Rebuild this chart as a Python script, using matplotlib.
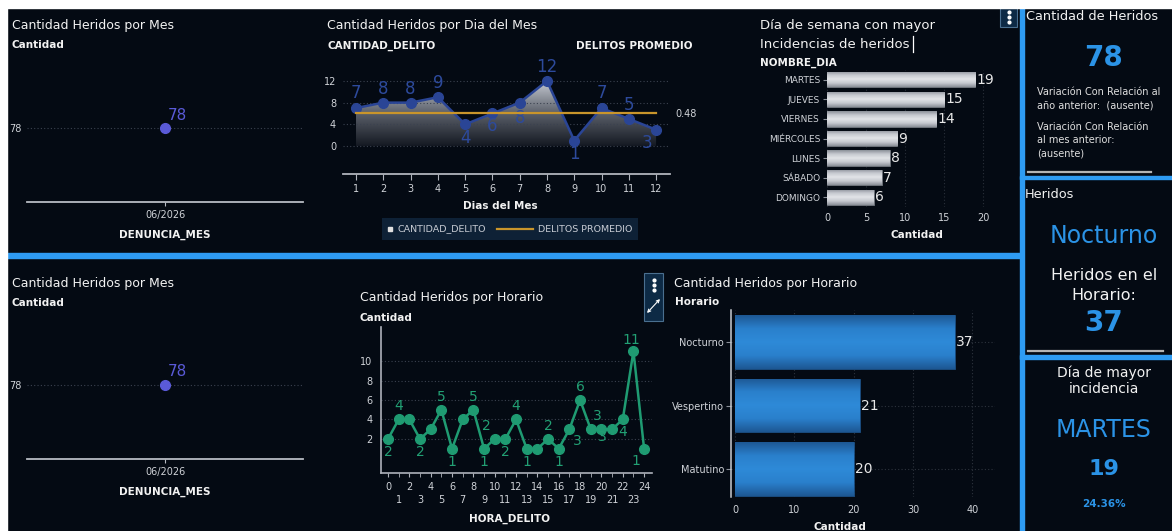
import numpy as np
import matplotlib
matplotlib.use('Agg')
import matplotlib.pyplot as plt
from matplotlib.patches import Rectangle
from matplotlib.colors import LinearSegmentedColormap

W, H = 1172, 531
BG = '#040a13'
BLUE_SEP = '#2e9bf2'
KPI_BLUE = '#2b93e6'
TICK_C = '#d0d3d8'
WHITE = '#f2f2f2'

# ---------------- data ----------------
mes_labels = ['06/2026']
mes_valores = [78]

dias = list(range(1, 13))
cantidad_delito = [7, 8, 8, 9, 4, 6, 8, 12, 1, 7, 5, 3]
delitos_promedio = [0.48] * 12
# label offsets (pixels) for the day-of-month labels
dias_label_off = [(0, 15), (0, 14), (0, 14), (0, 14), (0, -14), (0, -13), (0, -15),
                  (0, 14), (0, -13), (0, 15), (0, 14), (-9, -13)]

nombre_dia = ['MARTES', 'JUEVES', 'VIERNES', 'MIÉRCOLES', 'LUNES', 'SÁBADO', 'DOMINGO']
cantidad_dia = [19, 15, 14, 9, 8, 7, 6]

horas = list(range(25))
cantidad_hora = [2, 4, 4, 2, 3, 5, 1, 4, 5, 1, 2, 2, 4, 1, 1, 2, 1, 3, 6, 3, 3, 3, 4, 11, 1]
# (hour, dx px, dy px) of the visible value labels
horas_etiquetas = [(0, 0, -13), (1, 0, 13), (3, 0, -13), (5, 0, 13), (6, 0, -13),
                   (8, 0, 13), (10, -8, 13), (9, 0, -13), (11, 0, -13), (12, 0, 13),
                   (13, 0, -13), (15, 0, 13), (16, 0, -13), (17, 8, -12), (18, 0, 13),
                   (20, -4, 13), (20, 1, -8), (22, 0, -13), (23, -2, 11), (24, -8, -12)]

horario = ['Nocturno', 'Vespertino', 'Matutino']
cantidad_horario = [37, 21, 20]

# ---------------- figure ----------------
fig = plt.figure(figsize=(W / 100, H / 100), dpi=100, facecolor=BG)
ov = fig.add_axes([0, 0, 1, 1], zorder=0)
ov.set_xlim(0, W)
ov.set_ylim(H, 0)
ov.axis('off')


def px_axes(x0, y0, x1, y1):
    ax = fig.add_axes([x0 / W, 1 - y1 / H, (x1 - x0) / W, (y1 - y0) / H], zorder=2)
    ax.set_facecolor('none')
    for s in ax.spines.values():
        s.set_visible(False)
    return ax


def txt(x, y, s, size=9, color=WHITE, weight='normal', ha='left', va='center'):
    ov.text(x, y, s, fontsize=size, color=color, fontweight=weight, ha=ha, va=va)


# background decorations
ov.add_patch(Rectangle((0, 0), W, 8, color='white', zorder=5))
ov.add_patch(Rectangle((0, 0), 7, H, color='white', zorder=5))
ov.add_patch(Rectangle((7, 253.3), 1013, 4.3, color=BLUE_SEP))
ov.add_patch(Rectangle((1020, 8), 3.5, H, color=BLUE_SEP))
ov.add_patch(Rectangle((1020, 175.5), 152, 3.6, color=BLUE_SEP))
ov.add_patch(Rectangle((1020, 355.3), 152, 3.4, color=BLUE_SEP))
ov.plot([1028, 1151], [172, 172], color='#b4b4b4', lw=1.6)
ov.plot([1028, 1163], [350.8, 350.8], color='#b4b4b4', lw=1.6)

# menu boxes
ov.add_patch(Rectangle((1000, 7), 17, 20, facecolor='#0d2a45', edgecolor='#4a6f8f', lw=0.8))
ov.plot([1008.5] * 3, [12, 17, 22], 'o', color='white', ms=2)
ov.add_patch(Rectangle((644, 273), 19, 48, facecolor='#0d2a45', edgecolor='#4a6f8f', lw=0.8))
ov.plot([653.5] * 3, [280, 285, 290], 'o', color='white', ms=2)
ov.annotate('', xy=(660, 299), xytext=(647, 313),
            arrowprops=dict(arrowstyle='<->', color='white', lw=0.8, shrinkA=0, shrinkB=0,
                            mutation_scale=5))

# ---------------- month charts ----------------
def mes_chart(title_y, grid_y, axis_y, tick_y, xlabel_y):
    txt(12, title_y, 'Cantidad Heridos por Mes', size=9)
    txt(12, title_y + 19, 'Cantidad', size=7.5, weight='bold')
    ax = px_axes(27, grid_y - (axis_y - grid_y), 303, axis_y)
    ax.set_xlim(-1, 1)
    ax.set_ylim(77, 79)
    xs = np.arange(len(mes_labels))
    ax.plot(xs, mes_valores, 'o', color='#5a5ad8', ms=7, zorder=3)
    for x, v in zip(xs, mes_valores):
        ax.annotate(str(v), (x, v), xytext=(3, 13), textcoords='offset pixels',
                    ha='left', va='center', fontsize=11, color='#5a5ad8')
    ax.set_yticks(mes_valores)
    ax.set_yticklabels([str(v) for v in mes_valores])
    ax.grid(axis='y', color='#3b4250', ls=(0, (1, 2)), lw=0.8)
    ax.spines['bottom'].set_visible(True)
    ax.spines['bottom'].set_color('#b8bcc4')
    ax.spines['bottom'].set_linewidth(1.3)
    ax.set_xticks(xs)
    ax.set_xticklabels(mes_labels)
    ax.tick_params(axis='y', length=0, pad=4, labelsize=7, labelcolor=TICK_C)
    ax.tick_params(axis='x', length=3, color='#b8bcc4', pad=3, labelsize=7, labelcolor=TICK_C)
    txt(165, xlabel_y, 'DENUNCIA_MES', size=7.5, weight='bold', ha='center')


mes_chart(26, 128, 202, 213, 235)
mes_chart(284, 385, 459, 472, 492)

# ---------------- day-of-month chart ----------------
txt(327, 26, 'Cantidad Heridos por Dia del Mes', size=9)
txt(327, 46, 'CANTIDAD_DELITO', size=7.5, weight='bold')
txt(693, 46, 'DELITOS PROMEDIO', size=7.5, weight='bold', ha='right')
ax2 = px_axes(343, 60, 670, 174)
poly = ax2.fill_between(dias, cantidad_delito, 0, color='none', lw=0)
cmap = LinearSegmentedColormap.from_list('g', ['#141922', '#5b606a', '#c9cdd5'])
grad = np.linspace(0, 1, 256).reshape(-1, 1)
im = ax2.imshow(grad, extent=[dias[0], dias[-1], 0, max(cantidad_delito)], origin='lower',
                aspect='auto', cmap=cmap, zorder=1)
im.set_clip_path(poly.get_paths()[0], ax2.transData)
ax2.plot(dias, cantidad_delito, color='#2a4596', lw=1.8, marker='o', ms=7, zorder=3)
for d, v, (dx, dy) in zip(dias, cantidad_delito, dias_label_off):
    ax2.annotate(str(v), (d, v), xytext=(dx, dy), textcoords='offset pixels', ha='center',
                 va='center', fontsize=12, color='#2d4a9c', zorder=4)
ax2.set_xlim(0.523, 12.51)
ax2.set_ylim(-5.17, 15.87)
ax2.set_yticks([0, 4, 8, 12])
ax2.set_xticks(dias)
ax2.grid(axis='y', color='#3b4250', ls=(0, (1, 2)), lw=0.8)
ax2.spines['bottom'].set_visible(True)
ax2.spines['bottom'].set_color('#b0b4bc')
ax2.spines['bottom'].set_linewidth(1.3)
ax2.tick_params(axis='y', length=0, pad=5, labelsize=7, labelcolor=TICK_C)
ax2.tick_params(axis='x', length=4, color='#b0b4bc', pad=3, labelsize=7, labelcolor=TICK_C)
ax2b = ax2.twinx()
for s in ax2b.spines.values():
    s.set_visible(False)
ax2b.set_ylim(-5.17 * 0.08, 15.87 * 0.08)
ax2b.plot(dias, delitos_promedio, color='#c9952b', lw=1.6, zorder=5)
ax2b.set_yticks([delitos_promedio[0]])
ax2b.set_yticklabels([f'{delitos_promedio[0]:.2f}'])
ax2b.tick_params(axis='y', length=0, pad=4, labelsize=7, labelcolor=TICK_C)
txt(500, 206, 'Dias del Mes', size=7.5, weight='bold', ha='center')
# legend
ov.add_patch(Rectangle((382, 218), 256, 22, facecolor='#0e2136', edgecolor='none'))
ov.plot([390], [229], 's', color='#e0e0e0', ms=3.5)
txt(398, 229, 'CANTIDAD_DELITO', size=6.8, color='#c8ccd4')
ov.plot([497, 533], [229, 229], color='#c9952b', lw=1.6)
txt(538, 229, 'DELITOS PROMEDIO', size=6.8, color='#c8ccd4')

# ---------------- weekday bars ----------------
txt(760, 26, 'Día de semana con mayor', size=9.5)
txt(760, 44, 'Incidencias de heridos', size=9.5)
ov.plot([913, 913], [36, 52], color='white', lw=0.9)
txt(760, 63, 'NOMBRE_DIA', size=7.5, weight='bold')
ax3 = px_axes(827, 70, 995, 207)
y3 = np.arange(len(nombre_dia))
bars3 = ax3.barh(y3, cantidad_dia, height=0.78, color='#bfc3ca', edgecolor='#6f747c', lw=0.6,
                 zorder=2)
cm_gray = LinearSegmentedColormap.from_list('gb', ['#8a8f98', '#c6c9d0', '#e2e4e8', '#c6c9d0',
                                                   '#8a8f98'])
for b in bars3:
    bb = b.get_bbox()
    gi = ax3.imshow(grad, extent=[bb.x0, bb.x1, bb.y0, bb.y1], aspect='auto', cmap=cm_gray,
                    zorder=2.5)
    gi.set_clip_path(b)
for yy, v in zip(y3, cantidad_dia):
    ax3.text(v + 0.15, yy, str(v), va='center', ha='left', fontsize=10, color='#e8e8e8', zorder=4)
ax3.set_ylim(6.5, -0.5)
ax3.set_xlim(0, 21.5)
ax3.set_yticks(y3)
ax3.set_yticklabels(nombre_dia)
ax3.set_xticks([0, 5, 10, 15, 20])
ax3.grid(axis='x', color='#2a303a', ls=(0, (1, 2)), lw=0.8, zorder=0)
ax3.set_axisbelow(True)
ax3.tick_params(axis='y', length=3, color='#8a8f98', pad=2, labelsize=6.5, labelcolor=TICK_C)
ax3.tick_params(axis='x', length=0, pad=4, labelsize=7, labelcolor=TICK_C)
txt(917, 235, 'Cantidad', size=7.5, weight='bold', ha='center')

# ---------------- hourly line ----------------
txt(360, 298, 'Cantidad Heridos por Horario', size=9)
txt(360, 318, 'Cantidad', size=7.5, weight='bold')
ax4 = px_axes(381, 327, 652, 473)
ax4.plot(horas, cantidad_hora, color='#1f9b72', lw=1.8, marker='o', ms=7, zorder=3)
for h, dx, dy in horas_etiquetas:
    v = cantidad_hora[h]
    ax4.annotate(str(v), (h, v), xytext=(dx, dy), textcoords='offset pixels', ha='center',
                 va='center', fontsize=10, color='#22a074', zorder=4)
ax4.set_xlim(-0.656, 24.74)
ax4.set_ylim(-1.49, 13.49)
ax4.set_yticks([2, 4, 6, 8, 10])
ax4.set_xticks(horas[0::2])
ax4.set_xticklabels([str(h) for h in horas[0::2]])
ax4.set_xticks(horas[1::2], minor=True)
ax4.set_xticklabels([str(h) for h in horas[1::2]], minor=True)
ax4.grid(axis='y', color='#3b4250', ls=(0, (1, 2)), lw=0.8)
for s in ('left', 'bottom'):
    ax4.spines[s].set_visible(True)
    ax4.spines[s].set_color('#aeb2ba')
    ax4.spines[s].set_linewidth(1.2)
ax4.tick_params(axis='y', length=0, pad=6, labelsize=7, labelcolor=TICK_C)
ax4.tick_params(axis='x', which='major', length=3, color='#aeb2ba', pad=3.5, labelsize=7,
                labelcolor=TICK_C)
ax4.tick_params(axis='x', which='minor', length=3, color='#aeb2ba', pad=13, labelsize=7,
                labelcolor=TICK_C)
txt(510, 519, 'HORA_DELITO', size=7.5, weight='bold', ha='center')

# ---------------- horario bars ----------------
txt(674, 283, 'Cantidad Heridos por Horario', size=9)
txt(675, 302, 'Horario', size=7.5, weight='bold')
ax5 = px_axes(731, 310, 995, 497)
y5 = np.arange(len(horario))
bars5 = ax5.barh(y5, cantidad_horario, height=0.84, color='#2673bd', edgecolor='#1a4d80',
                 lw=0.6, zorder=2)
cm_blue = LinearSegmentedColormap.from_list('bb', ['#1d5793', '#2a80cc', '#2e8ad8', '#2a80cc',
                                                   '#1d5793'])
for b in bars5:
    bb = b.get_bbox()
    gi = ax5.imshow(grad, extent=[bb.x0, bb.x1, bb.y0, bb.y1], aspect='auto', cmap=cm_blue,
                    zorder=2.5)
    gi.set_clip_path(b)
for yy, v in zip(y5, cantidad_horario):
    ax5.text(v + 0.2, yy, str(v), va='center', ha='left', fontsize=10, color='#e8e8e8', zorder=4)
ax5.set_xlim(-0.67, 43.8)
ax5.set_ylim(2.44, -0.504)
ax5.set_yticks(y5)
ax5.set_yticklabels(horario)
ax5.set_xticks([0, 10, 20, 30, 40])
ax5.grid(True, color='#2d333d', ls=(0, (1, 2)), lw=0.8, zorder=0)
ax5.set_axisbelow(True)
ax5.spines['left'].set_visible(True)
ax5.spines['left'].set_color('#c8ccd2')
ax5.spines['left'].set_linewidth(1.1)
ax5.tick_params(axis='y', length=3.5, color='#8a8f98', pad=1.5, labelsize=7, labelcolor=TICK_C)
ax5.tick_params(axis='x', length=0, pad=6, labelsize=7, labelcolor=TICK_C)
txt(840, 527, 'Cantidad', size=7.5, weight='bold', ha='center')

# ---------------- KPI panel ----------------
txt(1026, 17, 'Cantidad de Heridos', size=9.3)
txt(1104, 58, str(sum(mes_valores)), size=20, weight='bold', color=KPI_BLUE, ha='center')
txt(1037, 92, 'Variación Con Relación al', size=7, color='#e0e0e0')
txt(1037, 106, 'año anterior:  (ausente)', size=7, color='#e0e0e0')
txt(1037, 127, 'Variación Con Relación', size=7, color='#e0e0e0')
txt(1037, 140, 'al mes anterior:', size=7, color='#e0e0e0')
txt(1037, 153, '(ausente)', size=7, color='#e0e0e0')

i_max_h = int(np.argmax(cantidad_horario))
txt(1025, 195, 'Heridos', size=9.3)
txt(1104, 236, horario[i_max_h], size=17, color=KPI_BLUE, ha='center')
txt(1104, 275, 'Heridos en el', size=11.5, ha='center')
txt(1104, 295, 'Horario:', size=11.5, ha='center')
txt(1104, 323, str(cantidad_horario[i_max_h]), size=20, weight='bold', color=KPI_BLUE,
    ha='center')

i_max_d = int(np.argmax(cantidad_dia))
txt(1104, 373, 'Día de mayor', size=10, ha='center')
txt(1104, 389, 'incidencia', size=10, ha='center')
txt(1104, 430, nombre_dia[i_max_d], size=17, color=KPI_BLUE, ha='center')
txt(1104, 469, str(cantidad_dia[i_max_d]), size=16, weight='bold', color=KPI_BLUE, ha='center')
pct = 100 * cantidad_dia[i_max_d] / sum(cantidad_dia)
txt(1104, 504, f'{pct:.2f}%', size=7.5, weight='bold', color=KPI_BLUE, ha='center')

fig.savefig('out.png', dpi=100, facecolor=BG)
